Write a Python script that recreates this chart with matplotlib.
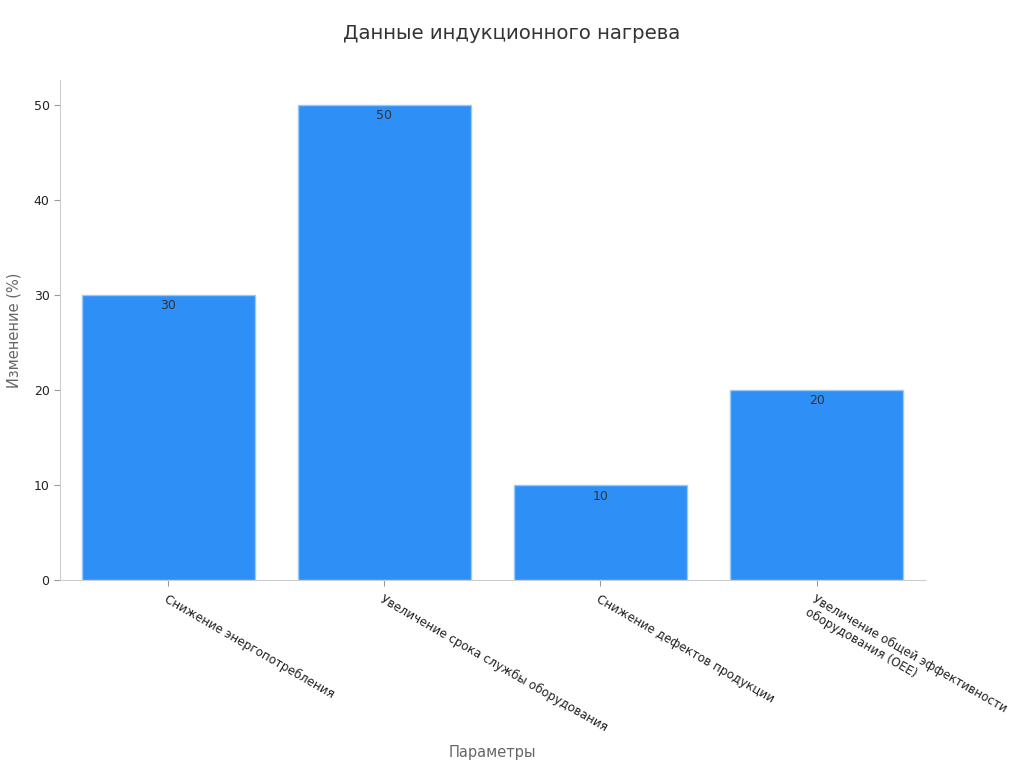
import matplotlib
matplotlib.use("Agg")
import matplotlib.pyplot as plt

# ── Data ─────────────────────────────────────────────────────────────────────
categories = ["Снижение энергопотребления",
              "Увеличение срока службы оборудования",
              "Снижение дефектов продукции",
              "Увеличение общей эффективности\nоборудования (OEE)"]
values = [30, 50, 10, 20]

fig = plt.figure(figsize=(10.24, 7.68), dpi=100)
ax = fig.add_axes([0.0586, 0.245, 0.8445, 0.651])

x = range(len(categories))
bars = ax.bar(x, values, 0.8, color="#2E90F7", edgecolor="#9cc8f5", linewidth=1)

for bar, val in zip(bars, values):
    ax.text(bar.get_x() + bar.get_width() / 2, bar.get_height() - 0.5,
            f"{val}", ha="center", va="top", color="#333333", fontsize=9)

ax.set_xlim(-0.5, 3.5)
ax.set_ylim(0, 52.6)
ax.set_xticks(list(x))
ax.set_xticklabels(categories, rotation=-30, ha="left", rotation_mode="anchor",
                   fontsize=8.6, color="#222222")
ax.set_yticks([0, 10, 20, 30, 40, 50])
ax.tick_params(axis="y", labelsize=9, colors="#222222")
ax.tick_params(color="#999999", length=4)
ax.tick_params(axis="x", pad=5)

for side in ("top", "right"):
    ax.spines[side].set_visible(False)
for side in ("left", "bottom"):
    ax.spines[side].set_color("#cccccc")

ax.set_xlabel("Параметры", color="#666666", fontsize=10.5, labelpad=0)
ax.xaxis.set_label_coords(0.5, -0.33)
ax.set_ylabel("Изменение (%)", color="#666666", fontsize=10.5)
ax.yaxis.set_label_coords(-0.045, 0.5)

fig.text(0.5, 0.957, "Данные индукционного нагрева", ha="center", va="center",
         fontsize=14.2, color="#333333")

plt.savefig("out.png", dpi=100)
